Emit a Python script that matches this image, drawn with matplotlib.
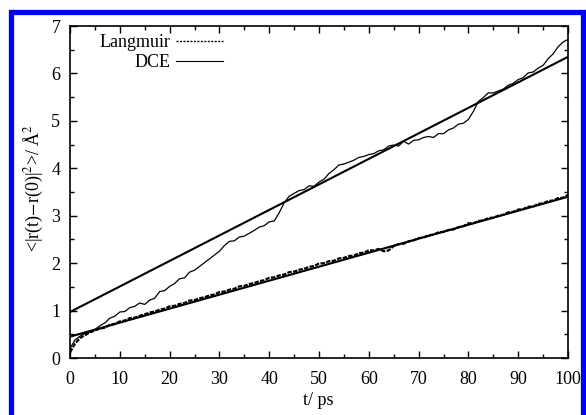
import matplotlib
matplotlib.use("Agg")
import matplotlib.pyplot as plt
import numpy as np
from matplotlib.patches import Rectangle
from matplotlib.ticker import MultipleLocator

plt.rcParams["font.family"] = ["Liberation Serif", "DejaVu Serif"]
plt.rcParams["mathtext.fontset"] = "stix"

# time axis, ps
t = np.arange(0, 101, 1)

# upper MSD trace
dce_msd = [
    0.20, 0.38, 0.46, 0.52, 0.55, 0.60, 0.68, 0.74, 0.84, 0.88,
    0.97, 0.98, 1.06, 1.09, 1.16, 1.13, 1.22, 1.26, 1.40, 1.42,
    1.51, 1.57, 1.67, 1.69, 1.81, 1.85, 1.93, 2.01, 2.09, 2.17,
    2.25, 2.37, 2.46, 2.47, 2.55, 2.57, 2.63, 2.69, 2.76, 2.79,
    2.87, 2.89, 3.06, 3.27, 3.41, 3.47, 3.53, 3.55, 3.63, 3.62,
    3.71, 3.77, 3.89, 3.97, 4.07, 4.09, 4.13, 4.17, 4.23, 4.25,
    4.29, 4.31, 4.37, 4.39, 4.47, 4.49, 4.47, 4.57, 4.51, 4.59,
    4.60, 4.65, 4.67, 4.65, 4.73, 4.73, 4.81, 4.85, 4.93, 4.95,
    5.03, 5.20, 5.41, 5.49, 5.59, 5.59, 5.63, 5.67, 5.75, 5.79,
    5.87, 5.91, 6.01, 6.03, 6.11, 6.17, 6.31, 6.41, 6.56, 6.66,
    6.72,
]

# lower MSD trace
lang_msd = [
    0.12, 0.30, 0.42, 0.48, 0.54, 0.58, 0.62, 0.64, 0.70, 0.72,
    0.77, 0.79, 0.84, 0.85, 0.89, 0.92, 0.96, 0.98, 1.02, 1.04,
    1.09, 1.10, 1.14, 1.16, 1.21, 1.22, 1.26, 1.28, 1.32, 1.34,
    1.39, 1.40, 1.44, 1.46, 1.51, 1.52, 1.56, 1.58, 1.62, 1.64,
    1.69, 1.70, 1.74, 1.76, 1.81, 1.82, 1.86, 1.88, 1.92, 1.94,
    1.99, 2.00, 2.04, 2.05, 2.10, 2.11, 2.15, 2.16, 2.21, 2.22,
    2.27, 2.27, 2.30, 2.25, 2.27, 2.36, 2.40, 2.41, 2.46, 2.48,
    2.53, 2.54, 2.59, 2.60, 2.65, 2.66, 2.70, 2.71, 2.76, 2.78,
    2.84, 2.84, 2.89, 2.90, 2.95, 2.96, 3.00, 3.02, 3.07, 3.08,
    3.13, 3.14, 3.19, 3.19, 3.25, 3.26, 3.31, 3.32, 3.37, 3.38,
    3.44,
]

# linear fits: (intercept, end value at t = 100)
fit_t = [0, 100]
fit_upper = [0.97, 6.35]
fit_lower = [0.45, 3.40]

fig = plt.figure(figsize=(5.86, 4.15), dpi=100)
ax = fig.add_axes([70 / 586, 1 - 358 / 415, 498 / 586, 332 / 415])

ax.plot(t, lang_msd, color="black", linewidth=1.6, linestyle=(0, (2, 0.6)))
ax.plot(t, dce_msd, color="black", linewidth=0.9)
ax.plot(fit_t, fit_upper, color="black", linewidth=1.5)
ax.plot(fit_t, fit_lower, color="black", linewidth=1.5)

# legend handles only
h1, = ax.plot([], [], color="black", linewidth=1.0, linestyle=(0, (1.5, 1)))
h2, = ax.plot([], [], color="black", linewidth=0.8)
ax.legend([h1, h2], ["Langmuir", "DCE"], loc="upper left", frameon=False,
          markerfirst=False, fontsize=13, handlelength=2.6, handletextpad=0.3,
          borderaxespad=0.0, labelspacing=0.15, bbox_to_anchor=(0.045, 0.997))

ax.set_xlim(0, 100)
ax.set_ylim(0, 7)
ax.xaxis.set_major_locator(MultipleLocator(10))
ax.xaxis.set_minor_locator(MultipleLocator(5))
ax.yaxis.set_major_locator(MultipleLocator(1))
ax.yaxis.set_minor_locator(MultipleLocator(0.5))
ax.tick_params(which="both", direction="in", top=True, right=True,
               labelsize=13, width=1.0)
ax.tick_params(which="major", length=5)
ax.tick_params(axis="x", which="major", pad=9)
ax.tick_params(axis="y", which="major", pad=7)
ax.tick_params(which="minor", length=3)
for sp in ax.spines.values():
    sp.set_linewidth(1.2)

ax.set_xlabel("t/ ps", fontsize=13, va="center")
ax.xaxis.set_label_coords((318 - 70) / 498, -(400 - 358) / 332)
ax.set_ylabel(r"<|r(t)$-$r(0)|$^2$>/ Å$^2$", fontsize=13, va="center")
ax.yaxis.set_label_coords(-(70 - 33) / 498, (358 - 188) / 332)

# blue frame around the figure
fig.patches.append(Rectangle((10.5 / 586, -0.05), 572 / 586, 1.05 - 12.5 / 415,
                             transform=fig.transFigure, fill=False,
                             edgecolor="#0000ff", linewidth=3.8))

fig.savefig("out.png", dpi=100)
